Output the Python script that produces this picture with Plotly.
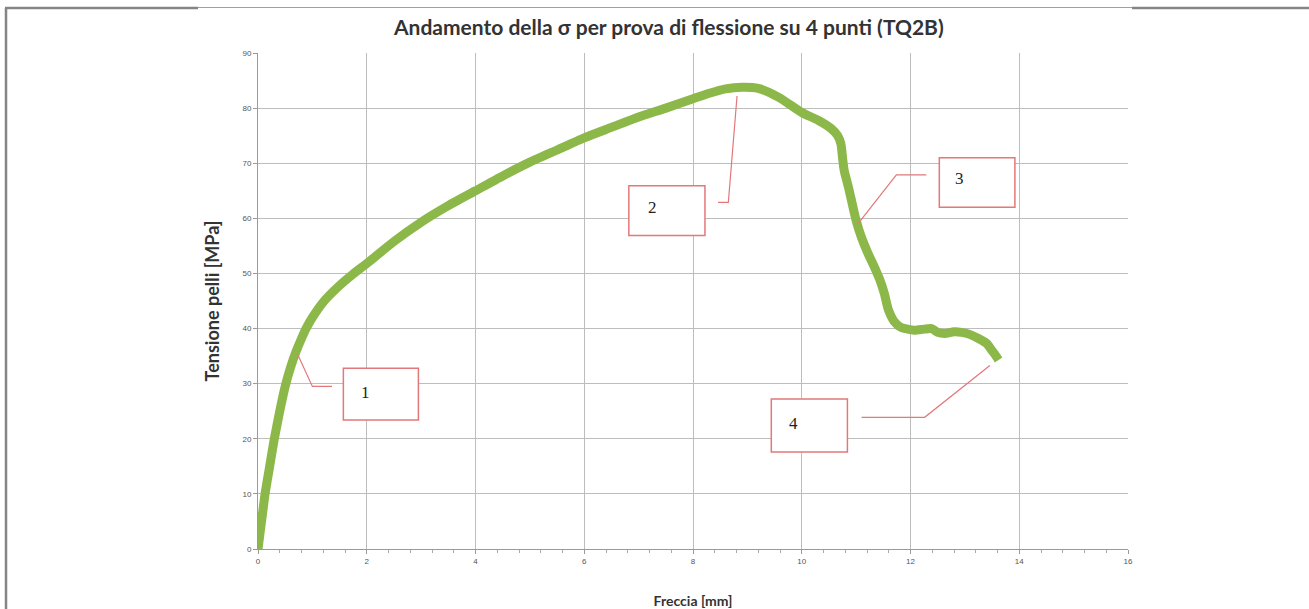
import plotly.graph_objects as go

# ---- data ----
freccia_mm = [0.0, 0.065, 0.13, 0.215, 0.30, 0.40, 0.50, 0.60, 0.70, 0.80, 0.90, 1.0, 1.2, 1.5, 1.75, 2.0,
              2.5, 3.0, 3.5, 4.0, 4.5, 5.0, 5.5, 6.0, 6.5, 7.0, 7.5, 8.0, 8.3, 8.6, 8.9, 9.2,
              9.57, 10.0, 10.3, 10.54, 10.66, 10.72, 10.75, 10.78, 10.86, 11.0, 11.1, 11.22,
              11.33, 11.43, 11.52, 11.59, 11.7, 11.83, 12.07, 12.25, 12.39, 12.5, 12.63, 12.8,
              12.94, 13.1, 13.25, 13.4, 13.49, 13.56, 13.62]
tensione_mpa = [0.0, 5.0, 10.0, 15.0, 20.0, 25.0, 29.5, 33.0, 35.8, 38.2, 40.3, 42.0, 44.8, 47.8, 49.9, 51.8,
                55.8, 59.3, 62.3, 65.0, 67.7, 70.2, 72.4, 74.6, 76.5, 78.4, 80.0, 81.7, 82.7, 83.5, 83.8, 83.6,
                82.0, 79.2, 77.8, 76.3, 75.0, 73.5, 71.0, 68.7, 65.6, 59.6, 56.5, 53.6,
                51.3, 49.0, 46.3, 43.5, 41.3, 40.2, 39.7, 39.9, 40.0, 39.3, 39.1, 39.4,
                39.3, 38.9, 38.2, 37.3, 36.1, 35.2, 34.3]

x_ticks = [0, 2, 4, 6, 8, 10, 12, 14, 16]
y_ticks = [0, 10, 20, 30, 40, 50, 60, 70, 80, 90]

# callout labels: text, box [x0, x1, y0, y1], text anchor, leader polyline
callout_text = ["1", "2", "3", "4"]
callout_box = [[1.57, 2.95, 23.4, 32.8], [6.82, 8.22, 56.9, 65.9],
               [12.53, 13.92, 62.0, 71.0], [9.44, 10.84, 17.6, 27.2]]
callout_text_pos = [[1.97, 28.4], [7.26, 62.0], [12.90, 67.2], [9.84, 22.8]]
callout_leader_x = [[0.72, 1.0, 1.36], [8.81, 8.65, 8.46], [11.04, 11.74, 12.29], [11.10, 12.26, 13.46]]
callout_leader_y = [[35.5, 29.5, 29.5], [82.2, 62.9, 62.9], [59.1, 67.9, 67.9], [23.9, 23.9, 33.3]]

# ---- figure ----
W, H = 1309, 609
L, R, T, B = 258, 181, 53, 60
pw, ph = W - L - R, H - T - B

def px_to_paper_x(p):
    return (p - L) / pw

def py_to_paper_y(p):
    return (H - B - p) / ph

fig = go.Figure()
fig.add_trace(go.Scatter(x=freccia_mm, y=tensione_mpa, mode="lines",
                         line=dict(color="#8cb84a", width=9, shape="spline", smoothing=0.6),
                         hoverinfo="x+y", showlegend=False))

shapes = []
annotations = []
red = "#e3787a"
for txt, box, tp, lx, ly in zip(callout_text, callout_box, callout_text_pos, callout_leader_x, callout_leader_y):
    fig.add_trace(go.Scatter(x=lx, y=ly, mode="lines", line=dict(color=red, width=1.2),
                             hoverinfo="skip", showlegend=False))
    shapes.append(dict(type="rect", xref="x", yref="y", x0=box[0], x1=box[1], y0=box[2], y1=box[3],
                       line=dict(color=red, width=1.5), fillcolor="white", layer="above"))
    annotations.append(dict(x=tp[0], y=tp[1], xref="x", yref="y", text=txt, showarrow=False,
                            font=dict(family="Liberation Serif, Times New Roman, serif", size=17, color="#222")))

# page frame fragments
frame = "#858585"
shapes.append(dict(type="line", xref="paper", yref="paper",
                   x0=px_to_paper_x(6), x1=px_to_paper_x(6), y0=py_to_paper_y(8), y1=py_to_paper_y(620),
                   line=dict(color=frame, width=2.5)))
shapes.append(dict(type="line", xref="paper", yref="paper",
                   x0=px_to_paper_x(5), x1=px_to_paper_x(198), y0=py_to_paper_y(8), y1=py_to_paper_y(8),
                   line=dict(color=frame, width=2.5)))
shapes.append(dict(type="line", xref="paper", yref="paper",
                   x0=px_to_paper_x(198), x1=px_to_paper_x(1132), y0=py_to_paper_y(7.5), y1=py_to_paper_y(7.5),
                   line=dict(color="#a0a0a0", width=1)))
shapes.append(dict(type="line", xref="paper", yref="paper",
                   x0=px_to_paper_x(1132), x1=px_to_paper_x(1312), y0=py_to_paper_y(8), y1=py_to_paper_y(8),
                   line=dict(color=frame, width=2.5)))

annotations.append(dict(xref="paper", yref="paper", x=px_to_paper_x(668), y=py_to_paper_y(27),
                        text="<b>Andamento della σ per prova di flessione su 4 punti (TQ2B)</b>",
                        showarrow=False, xanchor="center", yanchor="middle",
                        font=dict(family="Lato, sans-serif", size=21, color="#333")))

fig.update_layout(
    width=W, height=H,
    margin=dict(l=L, r=R, t=T, b=B),
    paper_bgcolor="white", plot_bgcolor="white",
    shapes=shapes, annotations=annotations,
    xaxis=dict(range=[0, 16], tickvals=x_ticks, ticktext=[str(v) for v in x_ticks],
               automargin=False,
               showgrid=True, gridcolor="#bdbdbd", gridwidth=1,
               showline=True, linecolor="#9a9a9a", linewidth=1, zeroline=False,
               ticks="outside", ticklen=4, tickcolor="#9a9a9a",
               minor=dict(dtick=0.4, ticks="outside", ticklen=3, tickcolor="#aaaaaa", showgrid=False),
               tickfont=dict(family="Liberation Sans, Arial, sans-serif", size=8, color="#555"),
               title=dict(text="<b>Freccia [mm]</b>", standoff=32,
                          font=dict(family="Lato, sans-serif", size=14, color="#333"))),
    yaxis=dict(range=[0, 90], tickvals=y_ticks, ticktext=[str(v) for v in y_ticks],
               automargin=False,
               showgrid=True, gridcolor="#bdbdbd", gridwidth=1,
               showline=True, linecolor="#9a9a9a", linewidth=1, zeroline=False,
               ticks="outside", ticklen=4, tickcolor="#9a9a9a",
               tickfont=dict(family="Liberation Sans, Arial, sans-serif", size=8, color="#555"),
               title=dict(text="<b>Tensione pelli [MPa]</b>", standoff=18,
                          font=dict(family="Lato, sans-serif", size=18, color="#333"))),
)

fig.write_html("out.html", config={"displayModeBar": False},
               post_script="document.body.style.margin='0';")
